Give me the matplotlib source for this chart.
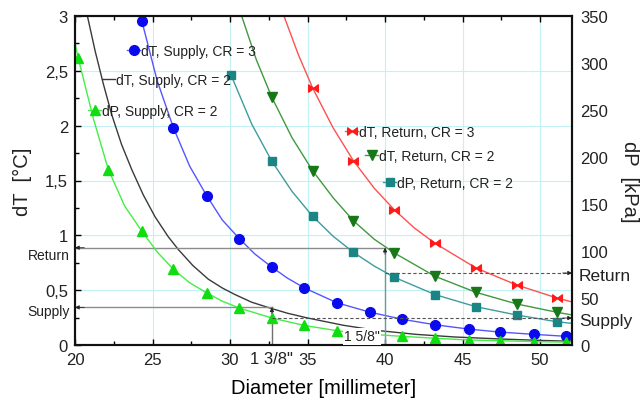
import matplotlib
matplotlib.use('Agg')
import matplotlib.pyplot as plt
from matplotlib.path import Path
from matplotlib.lines import Line2D
from matplotlib.legend import Legend
from matplotlib.ticker import MultipleLocator

plt.rcParams['font.family'] = ['Liberation Sans', 'DejaVu Sans']
plt.rcParams['text.color'] = '#222222'

# ---- data ----
# dT, Supply, CR = 3  (blue circles, left axis, degC)
sup3_x = [24.3, 26.35, 28.5, 30.6, 32.7, 34.8, 36.9, 39.0, 41.1, 43.2, 45.4, 47.4, 49.6, 51.7]
sup3_y = [2.95, 1.98, 1.36, 0.97, 0.71, 0.52, 0.385, 0.30, 0.235, 0.185, 0.145, 0.118, 0.097, 0.08]
sup3_cx = [24.23, 25.3, 26.35, 27.4, 28.5, 29.5, 30.6, 31.6, 32.7, 33.7, 34.8, 36.9, 39.0, 41.1,
           43.2, 45.4, 47.4, 49.6, 52.06]
sup3_cy = [3.0, 2.41, 1.98, 1.63, 1.36, 1.14, 0.97, 0.83, 0.71, 0.61, 0.52, 0.385, 0.30, 0.235,
           0.185, 0.145, 0.118, 0.097, 0.076]

# dT, Supply, CR = 2  (black line only)
sup2_cx = [20.8, 21.3, 21.83, 22.37, 23.0, 23.66, 24.4, 25.16, 26.0, 26.67, 27.6, 28.6, 29.5,
           30.32, 31.4, 32.58, 33.7, 34.95, 37.3, 39.46, 42.0, 44.5, 47.42, 50.0, 52.06]
sup2_cy = [3.0, 2.68, 2.38, 2.10, 1.83, 1.60, 1.37, 1.17, 0.99, 0.87, 0.725, 0.60, 0.52,
           0.46, 0.39, 0.337, 0.29, 0.248, 0.18, 0.133, 0.097, 0.073, 0.055, 0.042, 0.034]

# dP, Supply, CR = 2  (green triangles, right axis, kPa)
dps_x = [20.2, 22.15, 24.3, 26.35, 28.5, 30.6, 32.7, 34.8, 36.9, 39.0, 41.1, 43.2, 45.4, 47.4, 49.6, 51.7]
dps_y = [305.7, 186.7, 121.3, 80.5, 55.4, 39.3, 28.7, 20.8, 15.2, 11.5, 9.2, 7.2, 5.3, 4.6, 3.6, 3.1]
dps_cx = [20.0, 20.2, 21.2, 22.15, 23.2, 24.3, 25.3, 26.35, 27.4, 28.5, 29.5, 30.6, 32.7, 34.8,
          36.9, 39.0, 41.1, 43.2, 45.4, 47.4, 49.6, 52.06]
dps_cy = [321, 305.7, 240, 186.7, 148, 121.3, 99, 80.5, 66.2, 55.4, 46.6, 39.3, 28.7, 20.8,
          15.2, 11.5, 9.2, 7.2, 5.3, 4.6, 3.6, 3.0]

# dT, Return, CR = 3  (red bowties, left axis)
ret3_x = [35.33, 37.96, 40.6, 43.23, 45.87, 48.5, 51.1]
ret3_y = [2.343, 1.68, 1.233, 0.927, 0.702, 0.547, 0.428]
ret3_cx = [33.48, 34.4, 35.33, 36.65, 37.96, 39.3, 40.6, 41.9, 43.23, 45.87, 48.5, 51.1, 52.06]
ret3_cy = [3.0, 2.65, 2.343, 1.98, 1.68, 1.43, 1.233, 1.066, 0.927, 0.702, 0.547, 0.428, 0.393]

# dT, Return, CR = 2  (dark green down triangles, left axis)
ret2_x = [32.7, 35.33, 37.96, 40.6, 43.23, 45.87, 48.5, 51.1]
ret2_y = [2.258, 1.589, 1.133, 0.839, 0.626, 0.48, 0.374, 0.298]
ret2_cx = [30.75, 31.7, 32.7, 34.0, 35.33, 36.65, 37.96, 39.3, 40.6, 43.23, 45.87, 48.5, 51.1, 52.06]
ret2_cy = [3.0, 2.60, 2.258, 1.89, 1.589, 1.343, 1.133, 0.965, 0.839, 0.626, 0.48, 0.374, 0.298, 0.274]

# dP, Return, CR = 2  (teal squares, right axis, kPa)
dpr_x = [30.07, 32.7, 35.33, 37.96, 40.6, 43.23, 45.87, 48.5, 51.1]
dpr_y = [287, 195.4, 136.9, 98.6, 72.0, 53.6, 40.7, 31.9, 24.7]
dpr_cx = [30.07, 31.4, 32.7, 34.0, 35.33, 36.65, 37.96, 39.3, 40.6, 43.23, 45.87, 48.5, 51.1, 52.06]
dpr_cy = [287, 235, 195.4, 163.4, 136.9, 115.7, 98.6, 84.0, 72.0, 53.6, 40.7, 31.9, 24.7, 23.0]

# reading guides
ret_dT, sup_dT = 0.887, 0.343      # degC limits
ret_dP, sup_dP = 76.6, 28.7        # kPa at chosen pipe
d_ret, d_sup = 40.0, 32.7          # mm, 1 5/8" and 1 3/8"

x_ticks = [20, 25, 30, 35, 40, 45, 50]
y_ticks = [0, 0.5, 1, 1.5, 2, 2.5, 3]
y_labels = ['0', '0,5', '1', '1,5', '2', '2,5', '3']
y2_ticks = [0, 50, 100, 150, 200, 250, 300, 350]
xmin, xmax = 20, 52.06

# colours
c_blue, c_blue_l = '#0a0aee', '#5555ff'
c_lime, c_lime_l = '#10dd10', '#44ee44'
c_red, c_red_l = '#ff1a1a', '#ff5050'
c_dg, c_dg_l = '#187818', '#3f9a3f'
c_teal, c_teal_l = '#1b8585', '#3f9c9c'
c_blk = '#3a3a3a'

bowtie = Path([(-1, -0.75), (0, 0), (-1, 0.75), (-1, -0.75),
               (1, -0.75), (0, 0), (1, 0.75), (1, -0.75)],
              [Path.MOVETO, Path.LINETO, Path.LINETO, Path.CLOSEPOLY,
               Path.MOVETO, Path.LINETO, Path.LINETO, Path.CLOSEPOLY])

W, H = 643, 402
fig = plt.figure(figsize=(W / 100, H / 100), dpi=100)
ax = fig.add_axes([75 / W, 56 / H, 497 / W, 329 / H])
ax2 = ax.twinx()

# curves on left axis (degC)
ax.plot(sup3_cx, sup3_cy, color=c_blue_l, lw=1)
ax.plot(sup3_x, sup3_y, ls='none', marker='o', ms=7, color=c_blue)
ax.plot(sup2_cx, sup2_cy, color=c_blk, lw=1)
ax.plot(ret3_cx, ret3_cy, color=c_red_l, lw=1)
ax.plot(ret3_x, ret3_y, ls='none', marker=bowtie, ms=7, color=c_red)
ax.plot(ret2_cx, ret2_cy, color=c_dg_l, lw=1)
ax.plot(ret2_x, ret2_y, ls='none', marker='v', ms=7.5, color=c_dg)

# curves on right axis (kPa)
ax2.plot(dps_cx, dps_cy, color=c_lime_l, lw=1)
ax2.plot(dps_x, dps_y, ls='none', marker='^', ms=7.5, color=c_lime)
ax2.plot(dpr_cx, dpr_cy, color=c_teal_l, lw=1)
ax2.plot(dpr_x, dpr_y, ls='none', marker='s', ms=5.5, color=c_teal)

# guide lines
arrow = dict(arrowstyle='-|>', color='#222222', lw=0.6, mutation_scale=6, shrinkA=0, shrinkB=0)
ax.plot([xmin, d_ret], [ret_dT, ret_dT], color='#8c8c8c', lw=1)
ax.plot([xmin, d_sup], [sup_dT, sup_dT], color='#8c8c8c', lw=1)
ax.plot([d_ret, d_ret], [0, ret_dT], color='#6a9a9a', lw=1)
ax.plot([d_sup, d_sup], [0, sup_dT], color='#707070', lw=1)
ax.annotate('', xy=(xmin, ret_dT), xytext=(xmin + 0.6, ret_dT), arrowprops=arrow)
ax.annotate('', xy=(xmin, sup_dT), xytext=(xmin + 0.6, sup_dT), arrowprops=arrow)
ax.annotate('', xy=(d_ret, ret_dT), xytext=(d_ret, ret_dT - 0.06), arrowprops=arrow)
ax.annotate('', xy=(d_sup, sup_dT), xytext=(d_sup, sup_dT - 0.06), arrowprops=arrow)
ax2.plot([d_ret, xmax], [ret_dP, ret_dP], color='#555555', lw=0.8, ls=(0, (3, 2)))
ax2.plot([d_sup, xmax], [sup_dP, sup_dP], color='#555555', lw=0.8, ls=(0, (3, 2)))
ax2.annotate('', xy=(xmax, ret_dP), xytext=(xmax - 0.6, ret_dP), arrowprops=arrow)
ax2.annotate('', xy=(xmax, sup_dP), xytext=(xmax - 0.6, sup_dP), arrowprops=arrow)

ax.annotate('Return', xy=(xmin, ret_dT), xytext=(-4, -5), textcoords='offset points',
            ha='right', va='center', fontsize=10, annotation_clip=False)
ax.annotate('Supply', xy=(xmin, sup_dT), xytext=(-4, -2.5), textcoords='offset points',
            ha='right', va='center', fontsize=10, annotation_clip=False)
ax2.annotate('Return', xy=(xmax, ret_dP), xytext=(5, -1.5), textcoords='offset points',
             ha='left', va='center', fontsize=12.5, annotation_clip=False)
ax2.annotate('Supply', xy=(xmax, sup_dP), xytext=(5, -1.5), textcoords='offset points',
             ha='left', va='center', fontsize=12.5, annotation_clip=False)
ax.annotate('1 3/8"', xy=(d_sup, 0), xytext=(0, -4.5), textcoords='offset points',
            ha='center', va='top', fontsize=12, annotation_clip=False)
ax2.text(38.5, 0.08, '1 5/8"', transform=ax.transData, ha='center', va='center',
         fontsize=10, zorder=10,
         bbox=dict(boxstyle='square,pad=0.1', fc='white', ec='none'))

# inline legends, one entry each, placed next to their curves
def tag(handle, label, px, py):
    leg = Legend(ax2, [handle], [label], loc='center left',
                 bbox_to_anchor=(px / W, 1 - py / H), bbox_transform=fig.transFigure,
                 frameon=False, fontsize=10, borderpad=0, borderaxespad=0,
                 handlelength=0.95, handletextpad=0.08, numpoints=1)
    ax2.add_artist(leg)

tag(Line2D([], [], color=c_blue_l, lw=1, marker='o', ms=7, mfc=c_blue, mec=c_blue),
    'dT, Supply, CR = 3', 127, 52)
tag(Line2D([], [], color=c_blk, lw=1), 'dT, Supply, CR = 2', 101.5, 81)
tag(Line2D([], [], color=c_lime_l, lw=1, marker='^', ms=7.5, mfc=c_lime, mec=c_lime),
    'dP, Supply, CR = 2', 88, 112)
tag(Line2D([], [], color=c_red_l, lw=1, marker=bowtie, ms=7, mfc=c_red, mec=c_red),
    'dT, Return, CR = 3', 345, 133)
tag(Line2D([], [], color=c_dg_l, lw=1, marker='v', ms=7.5, mfc=c_dg, mec=c_dg),
    'dT, Return, CR = 2', 365, 157)
tag(Line2D([], [], color=c_teal_l, lw=1, marker='s', ms=5.5, mfc=c_teal, mec=c_teal),
    'dP, Return, CR = 2', 383, 184)

# axes
ax.set_xlim(xmin, xmax)
ax.set_ylim(0, 3)
ax2.set_ylim(0, 350)
ax.set_xticks(x_ticks)
ax.set_yticks(y_ticks)
ax.set_yticklabels(y_labels)
ax.xaxis.set_minor_locator(MultipleLocator(2.5))
ax.yaxis.set_minor_locator(MultipleLocator(0.25))
ax2.set_yticks(y2_ticks)
ax.grid(True, which='major', color='#c2f2f6', lw=0.8)
ax.set_axisbelow(True)
ax.tick_params(which='both', direction='in', top=True, right=False, labelsize=12,
               labelcolor='#222222')
ax.tick_params(which='major', length=4, width=1)
ax.tick_params(which='minor', length=3, width=1)
ax.tick_params(axis='x', pad=5)
ax.tick_params(axis='y', pad=5)
ax2.tick_params(length=0, labelsize=12, pad=6, labelcolor='#222222')
for a in (ax, ax2):
    for s in a.spines.values():
        s.set_linewidth(1.5)
        s.set_color('#111111')

ax.set_xlabel('Diameter [millimeter]', fontsize=14.5, labelpad=8)
fig.text(22.5 / W, 1 - 182 / H, 'dT  [\u00b0C]', rotation=90, ha='center', va='center', fontsize=14.5)
fig.text(630 / W, 1 - 182 / H, 'dP  [kPa]', rotation=-90, ha='center', va='center', fontsize=14.5)

fig.savefig('out.png', dpi=100)
